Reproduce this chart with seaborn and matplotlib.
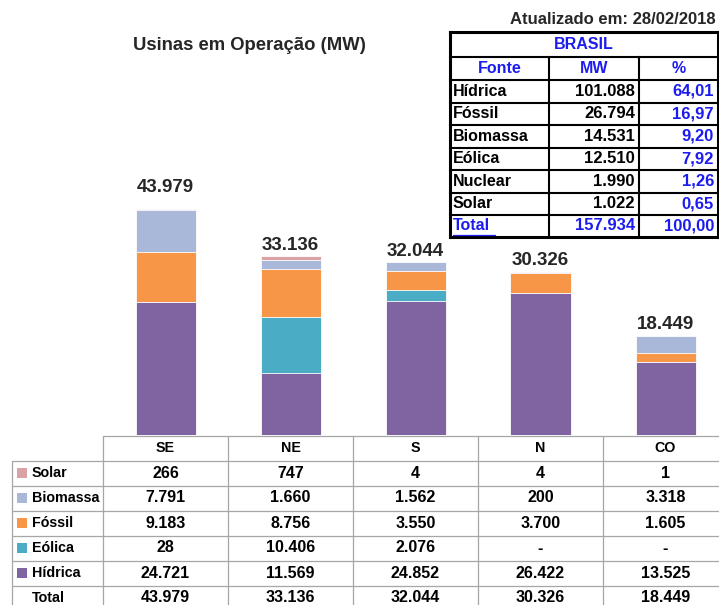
import numpy as np
import pandas as pd
import matplotlib
matplotlib.use("Agg")
import matplotlib.pyplot as plt
import seaborn as sns

# dados por região (MW)
regioes = ["SE", "NE", "S", "N", "CO"]
solar = [266, 747, 4, 4, 1]
biomassa = [7791, 1660, 1562, 200, 3318]
fossil = [9183, 8756, 3550, 3700, 1605]
eolica = [28, 10406, 2076, 0, 0]
hidrica = [24721, 11569, 24852, 26422, 13525]
totais = [43979, 33136, 32044, 30326, 18449]

# tabela Brasil
fontes_br = ["Hídrica", "Fóssil", "Biomassa", "Eólica", "Nuclear", "Solar"]
mw_br = [101088, 26794, 14531, 12510, 1990, 1022]
pct_br = [64.01, 16.97, 9.20, 7.92, 1.26, 0.65]
total_br = 157934
total_pct = 100.00

cores = {"Hídrica": "#8064A2", "Eólica": "#4BACC6", "Fóssil": "#F79646",
         "Biomassa": "#A9B8D8", "Solar": "#D9A3A6"}
azul = "#1c1cf0"
cinza = "#a6a6a6"


def fmt(v):
    return "-" if v == 0 else f"{v:,}".replace(",", ".")


def fmt_pct(v):
    return f"{v:.2f}".replace(".", ",")


sns.set_style("white")
plt.rcParams["font.family"] = ["Liberation Sans", "DejaVu Sans"]

W, H = 719, 605
fig = plt.figure(figsize=(W / 100, H / 100), dpi=100)

# barras empilhadas
ax = fig.add_axes([103 / W, (H - 435) / H, 625 / W, 269.5 / H])
series = [("Hídrica", hidrica), ("Eólica", eolica), ("Fóssil", fossil),
          ("Biomassa", biomassa), ("Solar", solar)]
cum = np.cumsum([s for _, s in series], axis=0)
for (nome, _), topo in reversed(list(zip(series, cum))):
    df = pd.DataFrame({"regiao": regioes, "mw": topo})
    sns.barplot(data=df, x="regiao", y="mw", order=regioes, color=cores[nome],
                saturation=1, width=0.48, edgecolor="white", linewidth=0.6, ax=ax)
ax.set_xlim(-0.5, 4.5)
ax.set_ylim(0, 50000)
ax.axis("off")
for i, t in enumerate(totais):
    ax.annotate(fmt(t), (i, t), xytext=(0, 1.5), textcoords="offset points",
                ha="center", va="bottom", fontsize=13.5, fontweight="bold")

# camada em pixels para título e tabelas
ov = fig.add_axes([0, 0, 1, 1])
ov.set_xlim(0, W)
ov.set_ylim(H, 0)
ov.axis("off")

ov.text(249, 45, "Usinas em Operação (MW)", ha="center", va="center",
        fontsize=13.3, fontweight="bold")
ov.text(716, 20, "Atualizado em: 28/02/2018", ha="right", va="center",
        fontsize=12, fontweight="bold")

# tabela Brasil
tx = [450, 549, 639, 718]
ty = [32, 57, 80, 102.5, 125, 147.5, 170, 192.5, 215, 237]
for y in ty:
    lw = 2.2 if y in (ty[0], ty[-1]) else 1.5
    ov.plot([tx[0], tx[-1]], [y, y], color="black", lw=lw, solid_capstyle="projecting")
for x in tx:
    lw = 2.2 if x in (tx[0], tx[-1]) else 1.5
    y0 = ty[0] if x in (tx[0], tx[-1]) else ty[1]
    ov.plot([x, x], [y0, ty[-1]], color="black", lw=lw, solid_capstyle="projecting")

kw = dict(va="center", fontsize=11.5, fontweight="bold")
nkw = dict(va="center", fontsize=12, fontweight="bold")
ov.text((tx[0] + tx[-1]) / 2, (ty[0] + ty[1]) / 2, "BRASIL", ha="center", color=azul, **kw)
for j, h in enumerate(["Fonte", "MW", "%"]):
    ov.text((tx[j] + tx[j + 1]) / 2, (ty[1] + ty[2]) / 2, h, ha="center", color=azul, **kw)
for k, (f, m, p) in enumerate(zip(fontes_br, mw_br, pct_br)):
    yc = (ty[k + 2] + ty[k + 3]) / 2
    ov.text(tx[0] + 3, yc, f, ha="left", color="black", **kw)
    ov.text(tx[2] - 4, yc, fmt(m), ha="right", color="black", **nkw)
    ov.text(tx[3] - 4, yc, fmt_pct(p), ha="right", color=azul, **nkw)
yc = (ty[-2] + ty[-1]) / 2
ov.text(tx[0] + 3, yc, "Total", ha="left", color=azul, **kw)
ov.plot([tx[0] + 3, tx[0] + 45], [yc + 9, yc + 9], color=azul, lw=0.9)
ov.text(tx[2] - 4, yc, fmt(total_br), ha="right", color=azul, **nkw)
ov.text(tx[3] - 4, yc, fmt_pct(total_pct), ha="right", color=azul, **nkw)

# tabela de dados por região
cx = [103, 228, 353, 478, 603, 728]
ry = [436, 460.5, 485.5, 510.5, 535.5, 560.5, 585.5, 610.5]
ov.plot([cx[0], cx[-1]], [ry[0], ry[0]], color=cinza, lw=0.9)
for y in ry[1:]:
    ov.plot([12, cx[-1]], [y, y], color=cinza, lw=0.9)
ov.plot([12, 12], [ry[1], ry[-1]], color=cinza, lw=0.9)
for x in cx:
    ov.plot([x, x], [ry[0], ry[-1]], color=cinza, lw=0.9)

lkw = dict(va="center", fontsize=10.3, fontweight="bold", color="black")
tkw = dict(va="center", fontsize=11.5, fontweight="bold", color="black")
for i, r in enumerate(regioes):
    ov.text((cx[i] + cx[i + 1]) / 2, (ry[0] + ry[1]) / 2, r, ha="center", **lkw)

linhas = [("Solar", solar), ("Biomassa", biomassa), ("Fóssil", fossil),
          ("Eólica", eolica), ("Hídrica", hidrica), ("Total", totais)]
for k, (nome, vals) in enumerate(linhas):
    yc = (ry[k + 1] + ry[k + 2]) / 2
    if nome in cores:
        ov.add_patch(plt.Rectangle((17, yc - 5), 10, 10, color=cores[nome], lw=0))
    ov.text(32, yc, nome, ha="left", **lkw)
    for i, v in enumerate(vals):
        ov.text((cx[i] + cx[i + 1]) / 2, yc, fmt(v), ha="center", **tkw)

fig.savefig("out.png", dpi=100)
